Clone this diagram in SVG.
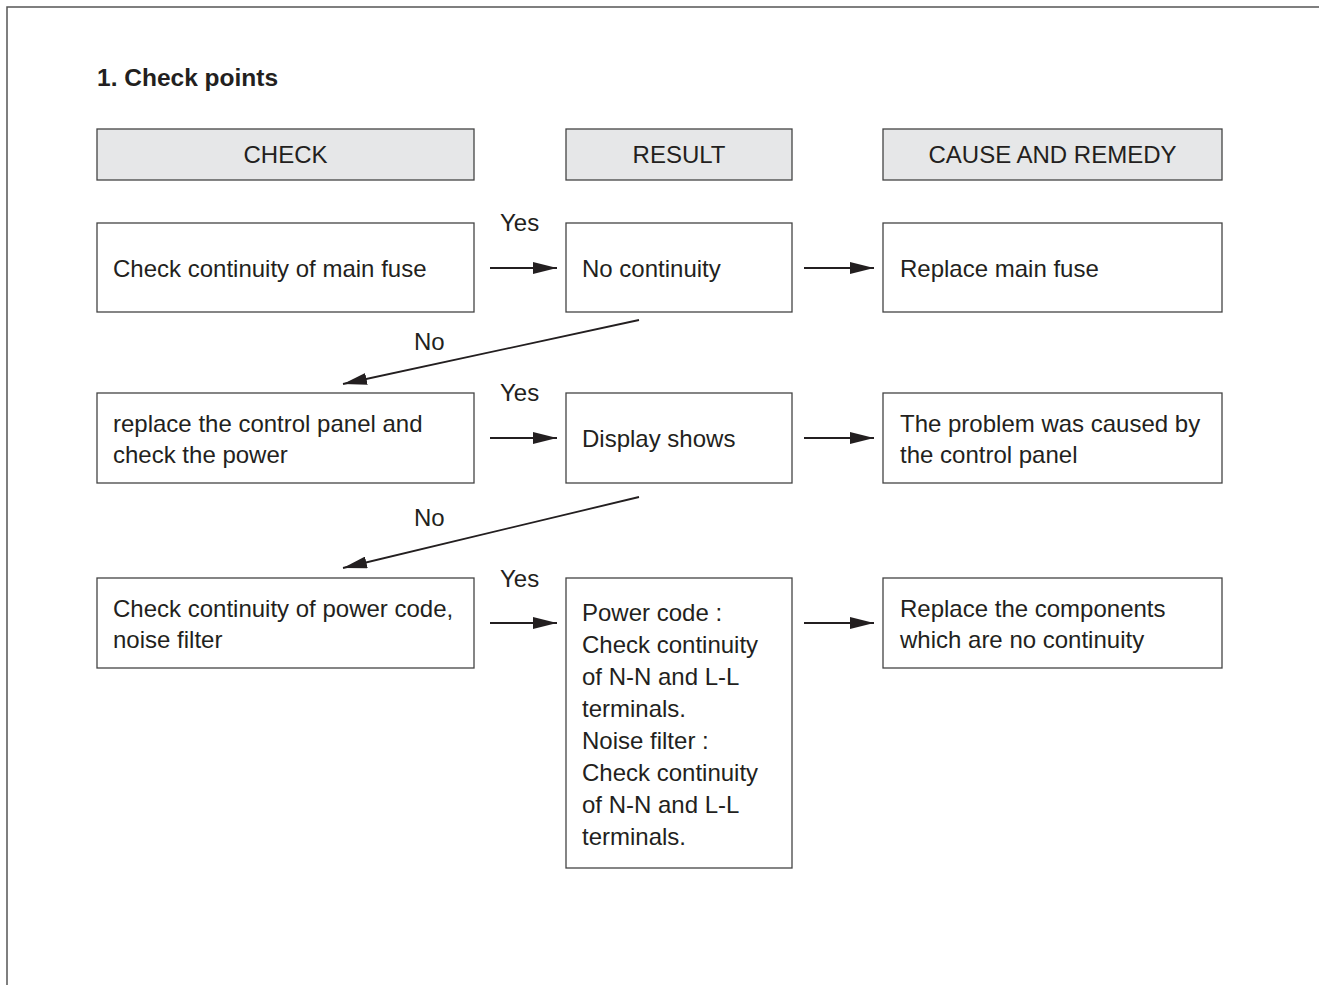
<svg xmlns="http://www.w3.org/2000/svg" width="1319" height="985" viewBox="0 0 1319 985">
<defs>
<style>
text{font-family:"Liberation Sans",Arial,sans-serif;font-size:24px;fill:#231f20;}
.t{font-weight:bold;font-size:24.5px;}
.hdr{fill:#e6e7e8;stroke:#444;stroke-width:1.3;}
.box{fill:#fff;stroke:#444;stroke-width:1.3;}
.c{text-anchor:middle;}
.ln{stroke:#231f20;stroke-width:1.8;fill:none;}
</style>
<marker id="ah" viewBox="0 0 24 12" refX="24" refY="6" markerWidth="24" markerHeight="12" markerUnits="userSpaceOnUse" orient="auto">
<path d="M0,0 L24,6 L0,12 Z" fill="#231f20"/>
</marker>
</defs>
<rect width="1319" height="985" fill="#fff"/>
<path d="M7,985 V7 H1319" fill="none" stroke="#555" stroke-width="1.5"/>
<text class="t" x="97" y="86">1. Check points</text>

<g id="hdr-check"><rect class="hdr" x="97" y="129" width="377" height="51"/><text class="c" x="285.5" y="163">CHECK</text></g>
<g id="hdr-result"><rect class="hdr" x="566" y="129" width="226" height="51"/><text class="c" x="679" y="163">RESULT</text></g>
<g id="hdr-cause"><rect class="hdr" x="883" y="129" width="339" height="51"/><text class="c" x="1052.5" y="163">CAUSE AND REMEDY</text></g>

<g id="check1"><rect class="box" x="97" y="223" width="377" height="89"/><text x="113" y="277">Check continuity of main fuse</text></g>
<g id="result1"><rect class="box" x="566" y="223" width="226" height="89"/><text x="582" y="277">No continuity</text></g>
<g id="cause1"><rect class="box" x="883" y="223" width="339" height="89"/><text x="900" y="277">Replace main fuse</text></g>

<g id="check2"><rect class="box" x="97" y="393" width="377" height="90"/><text x="113" y="432">replace the control panel and</text><text x="113" y="463">check the power</text></g>
<g id="result2"><rect class="box" x="566" y="393" width="226" height="90"/><text x="582" y="447">Display shows</text></g>
<g id="cause2"><rect class="box" x="883" y="393" width="339" height="90"/><text x="900" y="432">The problem was caused by</text><text x="900" y="463">the control panel</text></g>

<g id="check3"><rect class="box" x="97" y="578" width="377" height="90"/><text x="113" y="617">Check continuity of power code,</text><text x="113" y="648">noise filter</text></g>
<g id="result3"><rect class="box" x="566" y="578" width="226" height="290"/>
<text x="582" y="621">Power code :</text>
<text x="582" y="653">Check continuity</text>
<text x="582" y="685">of N-N and L-L</text>
<text x="582" y="717">terminals.</text>
<text x="582" y="749">Noise filter :</text>
<text x="582" y="781">Check continuity</text>
<text x="582" y="813">of N-N and L-L</text>
<text x="582" y="845">terminals.</text>
</g>
<g id="cause3"><rect class="box" x="883" y="578" width="339" height="90"/><text x="900" y="617">Replace the components</text><text x="900" y="648">which are no continuity</text></g>

<g id="connectors">
<line class="ln" x1="490" y1="268" x2="557" y2="268" marker-end="url(#ah)"/>
<line class="ln" x1="804" y1="268" x2="874" y2="268" marker-end="url(#ah)"/>
<line class="ln" x1="490" y1="438" x2="557" y2="438" marker-end="url(#ah)"/>
<line class="ln" x1="804" y1="438" x2="874" y2="438" marker-end="url(#ah)"/>
<line class="ln" x1="490" y1="623" x2="557" y2="623" marker-end="url(#ah)"/>
<line class="ln" x1="804" y1="623" x2="874" y2="623" marker-end="url(#ah)"/>
<line class="ln" x1="639" y1="320" x2="343" y2="384" marker-end="url(#ah)"/>
<line class="ln" x1="639" y1="497" x2="343" y2="568" marker-end="url(#ah)"/>
<text x="500" y="231">Yes</text>
<text x="500" y="401">Yes</text>
<text x="500" y="587">Yes</text>
<text x="414" y="350">No</text>
<text x="414" y="526">No</text>
</g>
</svg>
